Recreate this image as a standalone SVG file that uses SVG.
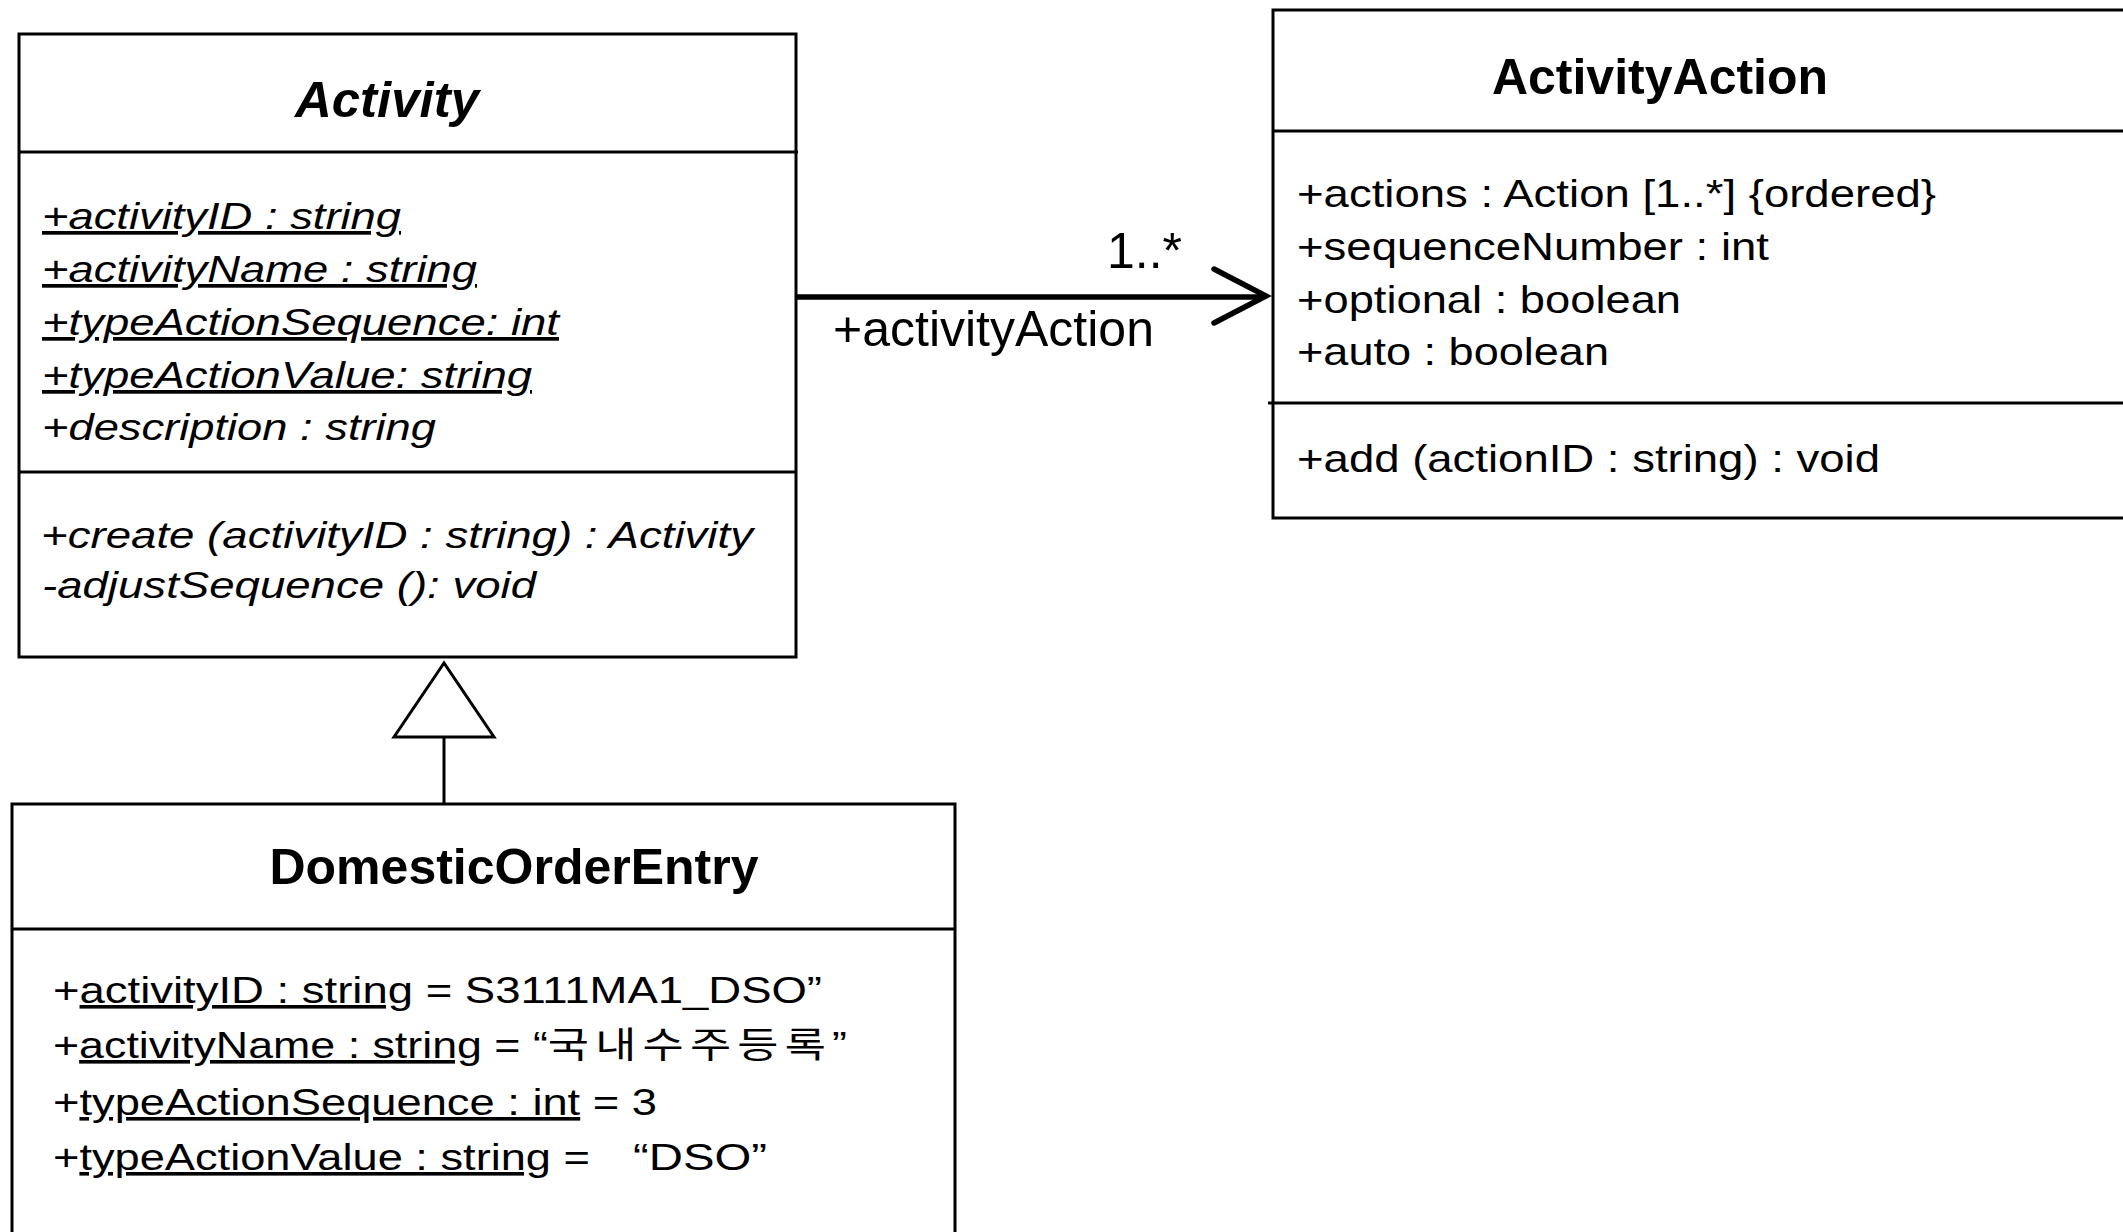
<svg xmlns="http://www.w3.org/2000/svg" width="2123" height="1232" viewBox="0 0 2123 1232">
<defs>
<style>
.box{fill:#fff;stroke:#000;stroke-width:3}
.sep{stroke:#000;stroke-width:3}
.assoc{fill:none;stroke:#000;stroke-width:5.5;stroke-linecap:round;stroke-linejoin:miter}
.edge{stroke:#000;stroke-width:3}
.tri{fill:#fff;stroke:#000;stroke-width:3;stroke-linejoin:miter}
.ttl{font-family:"Liberation Sans",Arial,sans-serif;font-weight:bold;font-size:50px;fill:#000}
.ita{font-style:italic}
.lbl{font-family:"Liberation Sans",Arial,sans-serif;font-size:50px;fill:#000}
.aa{font-family:"Liberation Sans",Arial,sans-serif;font-size:37px;font-style:italic;fill:#000}
.ab{font-family:"Liberation Sans",Arial,sans-serif;font-size:39px;fill:#000}
.ad{font-family:"Liberation Sans","Noto Sans CJK KR",sans-serif;font-size:36px;fill:#000}
.u{text-decoration:underline}
.ko{letter-spacing:5px}
</style>
</defs>
<rect width="2123" height="1232" fill="#fff"/>

<g id="connectors">
  <line x1="796" y1="297" x2="1262" y2="297" class="assoc"/>
  <polyline points="1214,269 1266,296 1214,323" class="assoc"/>
  <text x="1107" y="268" class="lbl">1..*</text>
  <text x="833" y="346" class="lbl">+activityAction</text>
  <line x1="444" y1="737" x2="444" y2="804" class="edge"/>
  <polygon points="444,663 394,737 494,737" class="tri"/>
</g>

<g id="activity">
  <rect x="19" y="34" width="777" height="623" class="box"/>
  <line x1="19" y1="152" x2="798" y2="152" class="sep"/>
  <line x1="19" y1="472" x2="796" y2="472" class="sep"/>
  <text x="295" y="117" class="ttl ita" textLength="184" lengthAdjust="spacingAndGlyphs">Activity</text>
  <text x="42" y="229" class="aa u" textLength="359" lengthAdjust="spacingAndGlyphs">+activityID : string</text>
  <text x="42" y="282" class="aa u" textLength="435" lengthAdjust="spacingAndGlyphs">+activityName : string</text>
  <text x="42" y="335" class="aa u" textLength="517" lengthAdjust="spacingAndGlyphs">+typeActionSequence: int</text>
  <text x="42" y="388" class="aa u" textLength="490" lengthAdjust="spacingAndGlyphs">+typeActionValue: string</text>
  <text x="42" y="440" class="aa" textLength="394" lengthAdjust="spacingAndGlyphs">+description : string</text>
  <text x="41" y="548" class="aa" textLength="712" lengthAdjust="spacingAndGlyphs">+create (activityID : string) : Activity</text>
  <text x="42" y="598" class="aa" textLength="494" lengthAdjust="spacingAndGlyphs">-adjustSequence (): void</text>
</g>

<g id="activityAction">
  <rect x="1273" y="10" width="870" height="508" class="box"/>
  <line x1="1273" y1="131" x2="2143" y2="131" class="sep"/>
  <line x1="1268" y1="403" x2="2143" y2="403" class="sep"/>
  <text x="1660" y="94" class="ttl" text-anchor="middle">ActivityAction</text>
  <text x="1297" y="207" class="ab" textLength="639" lengthAdjust="spacingAndGlyphs">+actions : Action [1..*] {ordered}</text>
  <text x="1297" y="260" class="ab" textLength="472" lengthAdjust="spacingAndGlyphs">+sequenceNumber : int</text>
  <text x="1297" y="313" class="ab" textLength="384" lengthAdjust="spacingAndGlyphs">+optional : boolean</text>
  <text x="1297" y="365" class="ab" textLength="312" lengthAdjust="spacingAndGlyphs">+auto : boolean</text>
  <text x="1297" y="472" class="ab" textLength="583" lengthAdjust="spacingAndGlyphs">+add (actionID : string) : void</text>
</g>

<g id="domesticOrderEntry">
  <rect x="12" y="804" width="943" height="440" class="box"/>
  <line x1="12" y1="929" x2="955" y2="929" class="sep"/>
  <text x="514" y="884" class="ttl" text-anchor="middle">DomesticOrderEntry</text>
  <text x="53" y="1003" class="ad" textLength="769" lengthAdjust="spacingAndGlyphs">+<tspan class="u">activityID : string</tspan> = S3111MA1_DSO”</text>
  <text x="53" y="1058" class="ad" textLength="794" lengthAdjust="spacingAndGlyphs">+<tspan class="u">activityName : string</tspan> = “<tspan class="ko">국내수주등록</tspan>”</text>
  <text x="53" y="1115" class="ad" textLength="604" lengthAdjust="spacingAndGlyphs">+<tspan class="u">typeActionSequence : int</tspan> = 3</text>
  <text x="53" y="1170" class="ad" textLength="537" lengthAdjust="spacingAndGlyphs">+<tspan class="u">typeActionValue : string</tspan> =</text>
  <text x="633" y="1170" class="ad" textLength="134" lengthAdjust="spacingAndGlyphs">“DSO”</text>
</g>
</svg>
